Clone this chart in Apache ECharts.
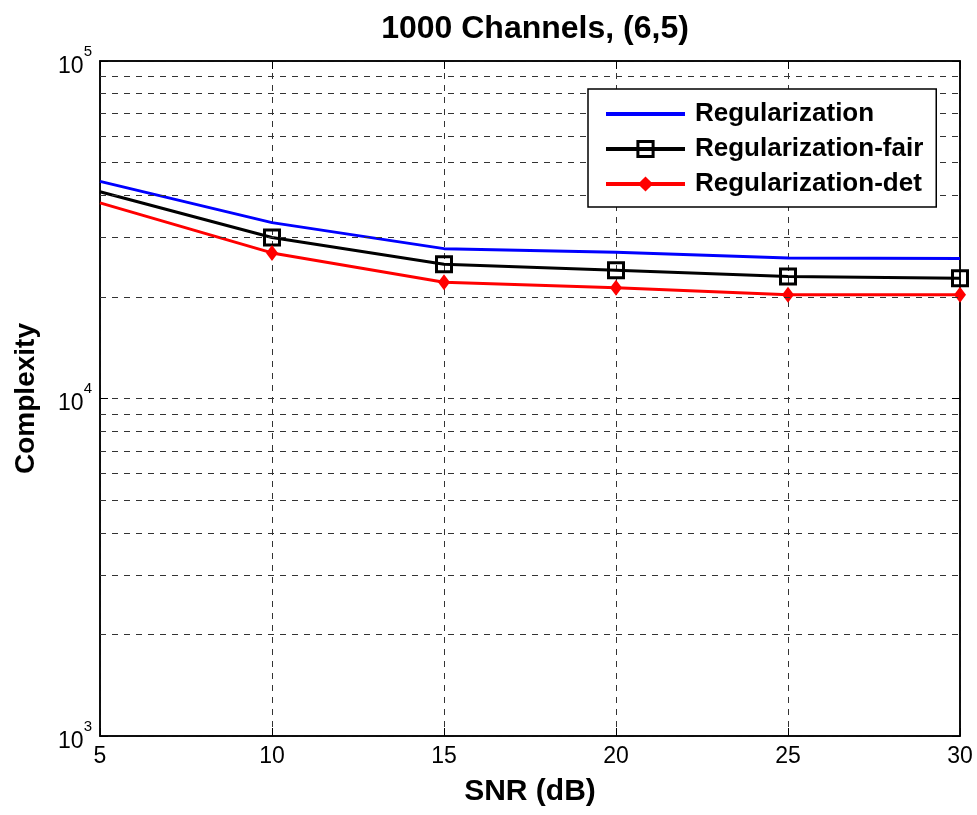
<!DOCTYPE html>
<html>
<head>
<meta charset="utf-8">
<script src="https://cdn.jsdelivr.net/npm/echarts@6/dist/echarts.min.js"></script>
<style>
  html, body { margin: 0; padding: 0; background: #fff; }
  #main { width: 977px; height: 815px; }
</style>
</head>
<body>
<div id="main"></div>
<script>
// SNR points (dB)
var snr = [5, 10, 15, 20, 25, 30];
// complexity
var regular = [44000, 33200, 27800, 27100, 26100, 26000];
var regularFair = [41000, 30000, 25000, 24000, 23000, 22700];
var regularDet = [38000, 27000, 22100, 21300, 20300, 20300];
// minor dashed grid lines of the log axis
var minorGrid = [2000, 3000, 4000, 5000, 6000, 7000, 8000, 9000,
                 20000, 30000, 40000, 50000, 60000, 70000, 80000, 90000];

var font = "'Liberation Sans', Arial, sans-serif";
var dash = { color: '#333', width: 1, type: [6, 6] };

// first point has no marker in the original figure
function pairs(ys) {
  return snr.map(function (x, i) {
    return i === 0 ? { value: [x, ys[i]], symbol: 'none' } : [x, ys[i]];
  });
}

var myChart = echarts.init(document.getElementById('main'));
myChart.setOption({
  animation: false,
  backgroundColor: '#fff',
  title: {
    text: '1000 Channels, (6,5)',
    left: 530,
    top: 8,
    textAlign: 'center',
    textStyle: { fontFamily: font, fontSize: 32, fontWeight: 'bold', color: '#000' }
  },
  grid: {
    left: 100, right: 17, top: 61, bottom: 79,
    show: true, borderColor: '#000', borderWidth: 1.5
  },
  legend: {
    z: 20,
    orient: 'vertical',
    left: 588,
    top: 89,
    padding: [12, 13, 10, 16],
    itemWidth: 79,
    itemHeight: 19,
    itemGap: 9,
    backgroundColor: '#fff',
    borderColor: '#000',
    borderWidth: 1.5,
    lineStyle: { width: 4 },
    itemStyle: { borderWidth: 3 },
    textStyle: { fontFamily: font, fontSize: 26, fontWeight: 'bold', color: '#000', padding: [0, 0, 0, 5] },
    data: [
      { name: 'Regularization', itemStyle: { opacity: 0 } },
      'Regularization-fair',
      'Regularization-det'
    ]
  },
  xAxis: [{
    type: 'value',
    min: 5, max: 30, interval: 5,
    name: 'SNR (dB)',
    nameLocation: 'middle',
    nameGap: 41,
    nameTextStyle: { fontFamily: font, fontSize: 30, fontWeight: 'bold', color: '#000' },
    axisLine: { lineStyle: { color: '#000', width: 1.5 } },
    axisTick: { inside: true, length: 8, lineStyle: { color: '#000' } },
    axisLabel: { fontFamily: font, fontSize: 23, color: '#000', margin: 9 },
    splitLine: { show: true, lineStyle: dash }
  }, {
    type: 'value',
    position: 'top',
    min: 5, max: 30, interval: 5,
    axisLine: { lineStyle: { color: '#000', width: 1.5 } },
    axisTick: { inside: true, length: 8, lineStyle: { color: '#000' } },
    axisLabel: { show: false },
    splitLine: { show: false }
  }],
  yAxis: [{
    type: 'log',
    logBase: 10,
    min: 1000, max: 100000,
    name: 'Complexity',
    nameLocation: 'middle',
    nameGap: 60,
    nameTextStyle: { fontFamily: font, fontSize: 28, fontWeight: 'bold', color: '#000' },
    axisLine: { show: true, lineStyle: { color: '#000', width: 1.5 } },
    axisTick: { show: true, inside: true, length: 8, lineStyle: { color: '#000' } },
    axisLabel: {
      margin: 8,
      formatter: function (v) {
        return '{b|10}{sup|' + Math.round(Math.log10(v)) + '}';
      },
      rich: {
        b: { fontFamily: font, fontSize: 23, color: '#000', lineHeight: 34, verticalAlign: 'bottom' },
        sup: { fontFamily: font, fontSize: 15, color: '#000', lineHeight: 12, verticalAlign: 'top' }
      }
    },
    splitLine: { show: true, lineStyle: dash }
  }, {
    type: 'log',
    logBase: 10,
    min: 1000, max: 100000,
    position: 'right',
    axisLine: { show: true, lineStyle: { color: '#000', width: 1.5 } },
    axisTick: { show: true, inside: true, length: 8, lineStyle: { color: '#000' } },
    axisLabel: { show: false },
    splitLine: { show: false }
  }],
  series: [{
    name: 'Regularization',
    type: 'line',
    data: snr.map(function (x, i) { return [x, regular[i]]; }),
    symbol: 'none',
    color: '#0000ff',
    lineStyle: { color: '#0000ff', width: 3 },
    markLine: {
      silent: true,
      symbol: 'none',
      label: { show: false },
      lineStyle: dash,
      data: minorGrid.map(function (v) { return { yAxis: v }; })
    }
  }, {
    name: 'Regularization-fair',
    type: 'line',
    data: pairs(regularFair),
    symbol: 'rect',
    symbolSize: 15,
    color: '#000',
    itemStyle: { color: 'rgba(0,0,0,0)', borderColor: '#000', borderWidth: 3 },
    lineStyle: { color: '#000', width: 3 }
  }, {
    name: 'Regularization-det',
    type: 'line',
    data: pairs(regularDet),
    symbol: 'diamond',
    symbolSize: [12, 16],
    color: '#ff0000',
    itemStyle: { color: '#ff0000' },
    lineStyle: { color: '#ff0000', width: 3 }
  }]
});
</script>
</body>
</html>
